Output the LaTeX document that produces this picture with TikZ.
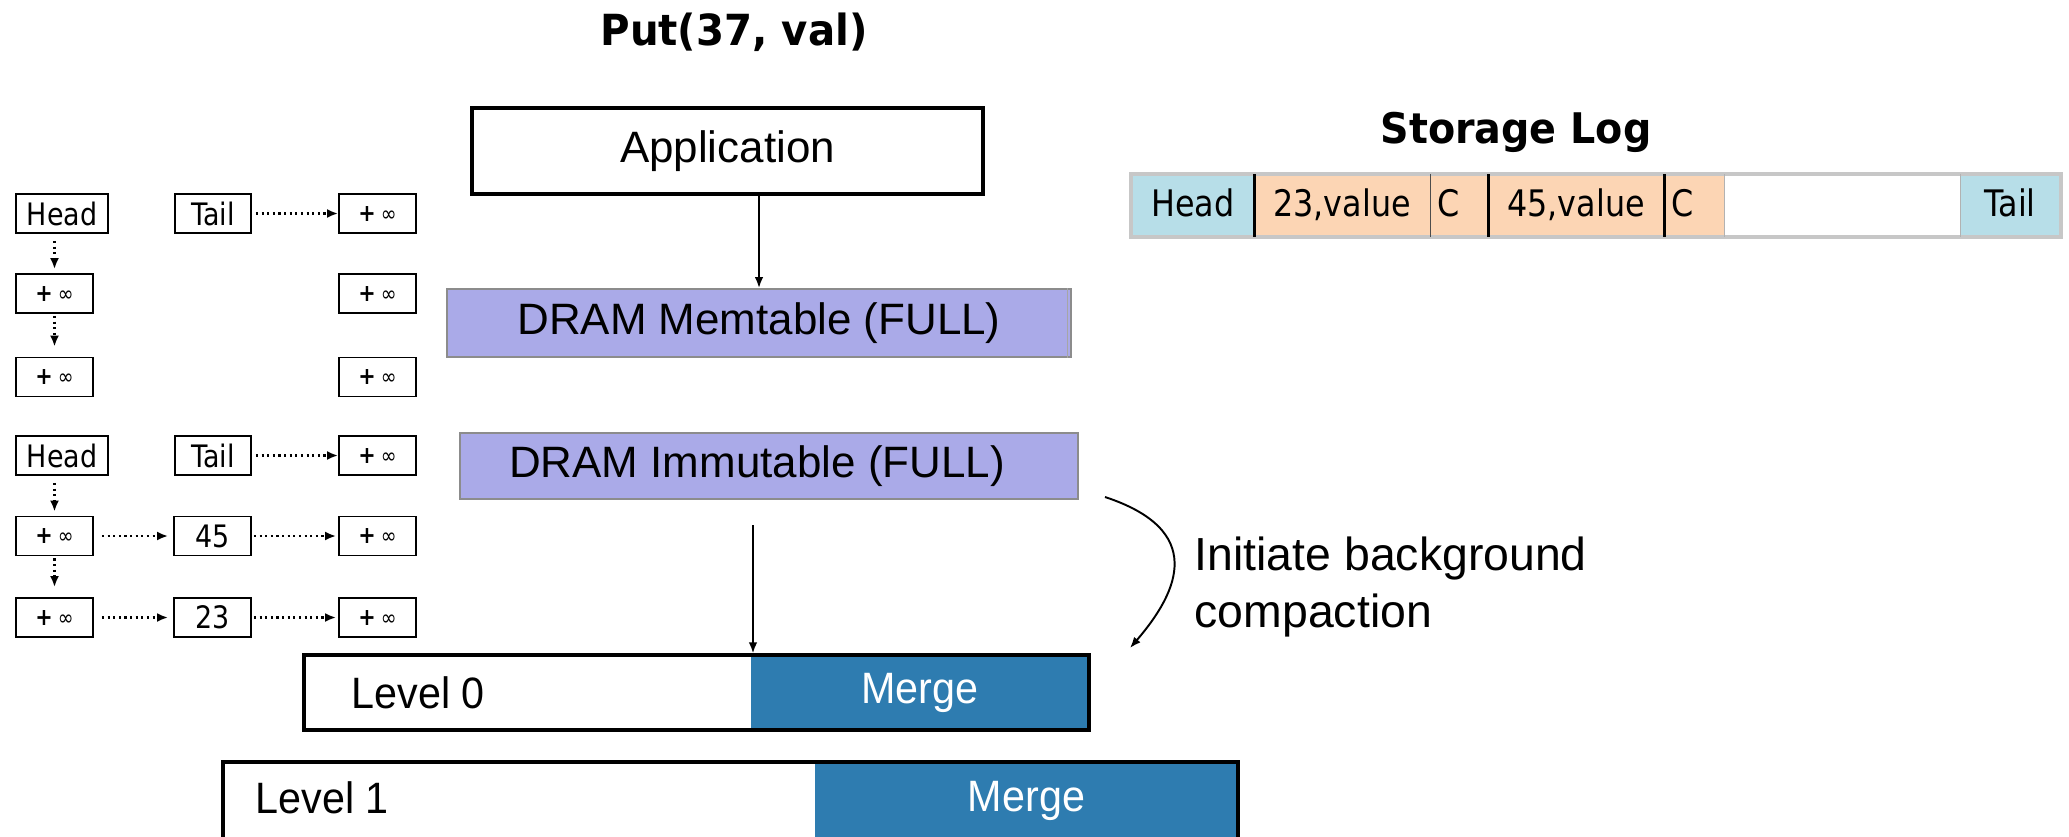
\documentclass[tikz,border=0pt]{standalone}
\usepackage{fontspec}
\setmainfont{Liberation Sans}
\newfontfamily\skfam[FakeStretch=0.87]{DejaVu Sans}
\newfontfamily\hdfam[FakeStretch=0.94]{DejaVu Sans}
\newfontfamily\lvfam[FakeStretch=0.94]{Liberation Sans}
\usetikzlibrary{arrows.meta}
\definecolor{lav}{RGB}{170,170,232}
\definecolor{mergeblue}{RGB}{46,124,176}
\definecolor{logblue}{RGB}{183,222,232}
\definecolor{logpeach}{RGB}{252,213,180}
\newcommand\plusinf{{\bfseries\fontsize{6.8}{7}\selectfont +}\hspace{0.5mm}{\fontsize{6.2}{7}\selectfont ∞}}
\tikzset{
  sk/.style={draw, line width=0.55pt, inner sep=0pt, minimum height=3.9mm,
    font=\skfam\fontsize{8.8}{9}\selectfont},
  skw/.style={sk, minimum width=7.7mm},
  dotarrow/.style={densely dotted, line width=0.6pt, -{Latex[length=1.1mm,width=0.9mm]}},
  flow/.style={line width=0.55pt, -{Latex[length=1.1mm,width=0.85mm]}},
  lvl/.style={draw, line width=0.9pt, inner sep=0pt},
  mergebox/.style={fill=mergeblue, inner sep=0pt, text=white, font=\lvfam\fontsize{12.5}{14}\selectfont},
  dram/.style={draw=black!45, fill=lav, line width=0.5pt, inner sep=0pt,
    font=\fontsize{12.5}{14}\selectfont},
  bigtext/.style={inner sep=0pt, font=\fontsize{12.5}{14}\selectfont},
  lvtext/.style={inner sep=0pt, font=\lvfam\fontsize{12.5}{14}\selectfont},
  logcell/.style={inner sep=0pt, minimum height=6.1mm, text height=7.6pt, text depth=1.6pt,
    font=\skfam\fontsize{10.4}{12}\selectfont},
  logc/.style={logcell, fill=logpeach, align=left, inner xsep=0.7mm},
}
\begin{document}
\begin{tikzpicture}[x=0.1mm, y=-0.1mm]
\useasboundingbox (0,0) rectangle (2069,836);
\clip (0,0) rectangle (2069,836);

% ---- skip list, first memtable ----
\node[sk, minimum width=9.2mm] (h1) at (62,213.5) {Head};
\node[sk, minimum width=7.6mm] (t1) at (213,213.5) {Tail};
\node[skw] (r11) at (377.5,213.5) {\plusinf};
\node[skw] (l12) at (54.5,293.5) {\plusinf};
\node[skw] (r12) at (377.5,293.5) {\plusinf};
\node[skw] (l13) at (54.5,377) {\plusinf};
\node[skw] (r13) at (377.5,377) {\plusinf};
\draw[dotarrow, shorten <=0.7mm, shorten >=0.4mm] (h1.south -| l12.north) -- (l12.north);
\draw[dotarrow, shorten <=0.2mm, shorten >=1.0mm] (l12.south) -- (l13.north);
\draw[dotarrow, shorten <=0.4mm] (t1.east) -- (r11.west);

% ---- skip list, immutable table ----
\node[sk, minimum width=9.2mm] (h2) at (62,455.5) {Head};
\node[sk, minimum width=7.6mm] (t2) at (213,455.5) {Tail};
\node[skw] (r21) at (377.5,455.5) {\plusinf};
\node[skw] (l22) at (54.5,536) {\plusinf};
\node[skw] (m22) at (212.5,536) {45};
\node[skw] (r22) at (377.5,536) {\plusinf};
\node[skw] (l23) at (54.5,617.5) {\plusinf};
\node[skw] (m23) at (212.5,617.5) {23};
\node[skw] (r23) at (377.5,617.5) {\plusinf};
\draw[dotarrow, shorten <=0.7mm, shorten >=0.4mm] (h2.south -| l22.north) -- (l22.north);
\draw[dotarrow, shorten <=0.2mm, shorten >=1.0mm] (l22.south) -- (l23.north);
\draw[dotarrow, shorten <=0.4mm] (t2.east) -- (r21.west);
\draw[dotarrow, shorten <=0.8mm, shorten >=0.5mm] (l22.east) -- (m22.west);
\draw[dotarrow, shorten <=0.2mm, shorten >=0.2mm] (m22.east) -- (r22.west);
\draw[dotarrow, shorten <=0.8mm, shorten >=0.5mm] (l23.east) -- (m23.west);
\draw[dotarrow, shorten <=0.2mm, shorten >=0.2mm] (m23.east) -- (r23.west);

% ---- write path ----
\node[anchor=base, inner sep=0pt, font=\hdfam\bfseries\fontsize{12.2}{14}\selectfont] (put) at (734,45) {Put(37, val)};
\node[draw, line width=0.9pt, minimum width=51.1mm, minimum height=8.6mm, bigtext] (app) at (727.5,151) {Application};
\node[dram, minimum width=62.4mm, minimum height=6.8mm] (mt) at (759,323) {DRAM Memtable (FULL)};
\draw[black!35, line width=0.4pt] ([xshift=-0.45mm]mt.north east) -- ([xshift=-0.45mm]mt.south east);
\node[dram, minimum width=61.8mm, minimum height=6.6mm] (im) at (769,466) {DRAM Immutable (FULL)\hspace*{2.4mm}};
\draw[flow] (app.south -| mt.north) -- (mt.north);

% ---- levels ----
\node[mergebox, minimum width=33.8mm, minimum height=7.5mm] (m0) at (920,692.5) {Merge};
\node[lvl, minimum width=78.5mm, minimum height=7.5mm] (lv0) at (696.5,692.5) {};
\node[lvtext, anchor=base west] (lv0t) at (351,708) {Level 0};
\node[mergebox, minimum width=42.3mm, minimum height=7.8mm] (m1) at (1026.5,801) {Merge};
\node[lvl, minimum width=101.5mm, minimum height=7.8mm] (lv1) at (730.5,801) {};
\node[lvtext, anchor=base west] (lv1t) at (255,813) {Level 1};

\coordinate (down0) at (753,525);
\draw[flow] (down0) -- (down0 |- lv0.north);

% ---- compaction trigger ----
\coordinate (c0) at (1105,497);
\coordinate (c1) at (1130,648);
\draw[flow] (c0) .. controls (1205,530) and (1180,590) .. (c1);
\node[anchor=base west, inner sep=0pt, font=\fontsize{13.2}{16}\selectfont] (note1) at (1194,570) {Initiate background};
\node[anchor=base west, inner sep=0pt, font=\fontsize{13.2}{16}\selectfont] (note2) at (1194,627) {compaction};

% ---- storage log ----
\node[anchor=base, inner sep=0pt, font=\hdfam\bfseries\fontsize{12}{14}\selectfont] (logtitle) at (1516,143) {Storage Log};
\node[logcell, fill=logblue, minimum width=12.2mm] (lhead) at (1193,205.5) {Head};
\node[logcell, fill=logpeach, minimum width=17.6mm] (l23) at (1342,205.5) {23,value};
\node[logc, text width=4.4mm] (lc1) at (1459,205.5) {C};
\node[logcell, fill=logpeach, minimum width=17.6mm] (l45) at (1576,205.5) {45,value};
\node[logc, text width=4.6mm] (lc2) at (1694,205.5) {C};
\node[logcell, fill=white, minimum width=23.6mm] (lfree) at (1842,205.5) {};
\node[logcell, fill=logblue, minimum width=10mm] (ltail) at (2010,205.5) {Tail};
\draw[black!22, line width=1.1pt] (lhead.north west) rectangle (ltail.south east);
\draw[line width=0.8pt] (lhead.north east) -- (lhead.south east);
\draw[black!70, line width=0.4pt] (l23.north east) -- (l23.south east);
\draw[line width=0.8pt] (lc1.north east) -- (lc1.south east);
\draw[line width=0.8pt] (l45.north east) -- (l45.south east);
\draw[black!30, line width=0.4pt] (lc2.north east) -- (lc2.south east);
\draw[black!30, line width=0.4pt] (lfree.north east) -- (lfree.south east);
\end{tikzpicture}
\end{document}
